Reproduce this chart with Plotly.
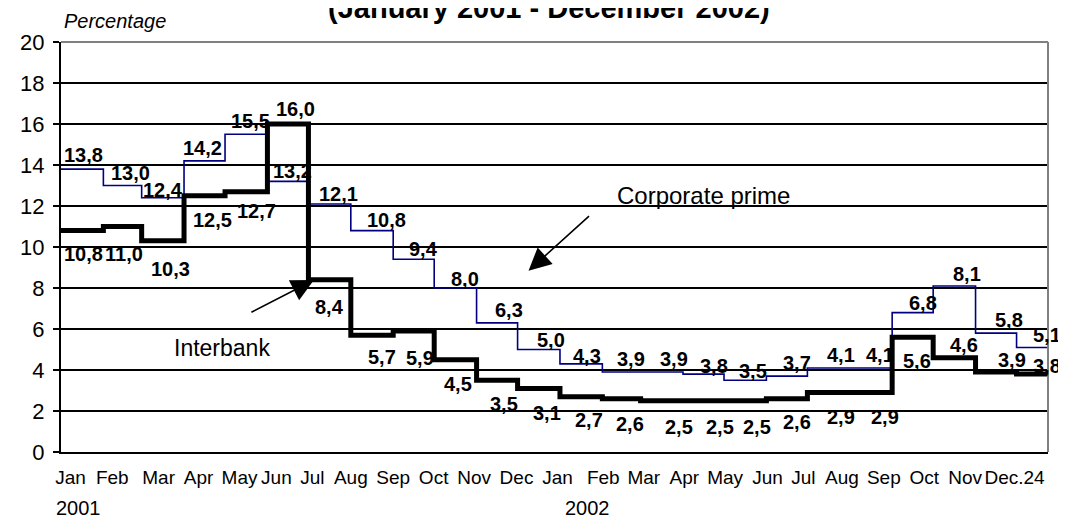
import pandas as pd
import plotly.graph_objects as go

# ---------------- data ----------------
month_starts = ["2001-01-01", "2001-02-01", "2001-03-01", "2001-04-01", "2001-05-01", "2001-06-01",
                "2001-07-01", "2001-08-01", "2001-09-01", "2001-10-01", "2001-11-01", "2001-12-01",
                "2002-01-01", "2002-02-01", "2002-03-01", "2002-04-01", "2002-05-01", "2002-06-01",
                "2002-07-01", "2002-08-01", "2002-09-01", "2002-10-01", "2002-11-01", "2002-12-01"]
period_end = "2002-12-24"

interbank = [10.8, 11.0, 10.3, 12.5, 12.7, 16.0, 8.4, 5.7, 5.9, 4.5, 3.5, 3.1,
             2.7, 2.6, 2.5, 2.5, 2.5, 2.6, 2.9, 2.9, 5.6, 4.6, 3.9, 3.8]
corporate_prime = [13.8, 13.0, 12.4, 14.2, 15.5, 13.2, 12.1, 10.8, 9.4, 8.0, 6.3, 5.0,
                   4.3, 3.9, 3.9, 3.8, 3.5, 3.7, 4.1, 4.1, 6.8, 8.1, 5.8, 5.1]

month_labels = ["Jan", "Feb", "Mar", "Apr", "May", "Jun", "Jul", "Aug", "Sep", "Oct", "Nov", "Dec",
                "Jan", "Feb", "Mar", "Apr", "May", "Jun", "Jul", "Aug", "Sep", "Oct", "Nov", "Dec.24"]
year_labels = ["2001", "2002"]
y_ticks = [0, 2, 4, 6, 8, 10, 12, 14, 16, 18, 20]

# ---------------- styling / placement ----------------
tick_dates = ["2001-01-08 00:00", "2001-02-07 12:00", "2001-03-13 10:00", "2001-04-11 14:00",
              "2001-05-11 14:00", "2001-06-07 14:00", "2001-07-03 22:00", "2001-08-01 00:00",
              "2001-09-01 00:00", "2001-09-30 14:00", "2001-10-30 05:00", "2001-11-30 05:00",
              "2001-12-30 05:00", "2002-02-01 17:00", "2002-03-03 07:00", "2002-04-01 22:00",
              "2002-05-01 19:00", "2002-06-01 19:00", "2002-06-28 02:00", "2002-07-26 07:00",
              "2002-08-25 22:00", "2002-09-24 12:00", "2002-10-24 10:00", "2002-11-29 12:00"]
year_dates = ["2001-01-14", "2002-01-21"]

cp_shift = [(1.5, 14), (7.5, 12.5), (0, 8), (-2, 13), (4, 13), (5, 10), (9, 10), (14, 10.5),
            (10, 10.5), (10, 9), (12, 12.5), (12.5, 10), (5.5, 8), (9.5, 13), (12, 13), (10, 8.5),
            (8, 9), (10, 13), (12.5, 13), (9, 13), (10, 10), (13, 12), (12.5, 13.5), (14.5, 12.5)]
ib_shift = [(1.5, -23), (1, -27), (8, -28), (8, -24), (10.5, -19), (8, 15), (0, -27), (9.5, -22),
            (6, -27), (2.5, -24), (6.5, -23.5), (8.5, -25), (8, -23.5), (8.5, -25), (17, -26),
            (16, -26), (12, -26), (10, -23), (12.5, -24), (14.5, -24), (4, -23.5), (10, 12.5),
            (16, 12), (14.5, 8.5)]

FONT = "Liberation Sans, Arial, sans-serif"

starts = pd.to_datetime(month_starts)
ends = list(starts[1:]) + [pd.Timestamp(period_end)]
mids = [s + (e - s) / 2 for s, e in zip(starts, ends)]
x_step = list(starts) + [pd.Timestamp(period_end)]
tick_x = [pd.Timestamp(t) for t in tick_dates]

fig = go.Figure()
fig.add_trace(go.Scatter(x=x_step, y=corporate_prime + [corporate_prime[-1]], mode="lines",
                         line=dict(color="#000080", width=1.6, shape="hv"),
                         name="Corporate prime", hoverinfo="skip"))
fig.add_trace(go.Scatter(x=x_step, y=interbank + [interbank[-1]], mode="lines",
                         line=dict(color="#000000", width=5, shape="hv"),
                         name="Interbank", hoverinfo="skip"))

def fmt(v):
    return f"{v:.1f}".replace(".", ",")

annotations = []
for m, v, (dx, dy) in zip(mids, corporate_prime, cp_shift):
    annotations.append(dict(x=m, y=v, xref="x", yref="y", text="<b>" + fmt(v) + "</b>",
                            showarrow=False, xshift=dx, yshift=dy,
                            font=dict(family=FONT, size=20, color="black")))
for m, v, (dx, dy) in zip(mids, interbank, ib_shift):
    annotations.append(dict(x=m, y=v, xref="x", yref="y", text="<b>" + fmt(v) + "</b>",
                            showarrow=False, xshift=dx, yshift=dy,
                            font=dict(family=FONT, size=20, color="black")))

# series name labels with arrows
annotations.append(dict(x="2001-04-29", y=5.07, xref="x", yref="y", text="Interbank",
                        showarrow=False, font=dict(family=FONT, size=23, color="black")))
annotations.append(dict(x="2002-04-16", y=12.5, xref="x", yref="y", text="Corporate prime",
                        showarrow=False, font=dict(family=FONT, size=24, color="black")))
annotations.append(dict(x="2001-07-05", y=8.39, xref="x", yref="y", text="", showarrow=True,
                        ax=-64, ay=33, arrowhead=2, arrowsize=2.8, arrowwidth=1.6,
                        arrowcolor="black", standoff=0))
annotations.append(dict(x="2001-12-09", y=8.84, xref="x", yref="y", text="", showarrow=True,
                        ax=62, ay=-56, arrowhead=2, arrowsize=2.8, arrowwidth=1.6,
                        arrowcolor="black", standoff=0))

# years
for d, t in zip(year_dates, year_labels):
    annotations.append(dict(x=d, y=-0.137, xref="x", yref="paper", text=t, showarrow=False,
                            yanchor="middle", font=dict(family=FONT, size=20, color="black")))

# axis title & chart title (title is partly cut at the top edge, as in the reference)
annotations.append(dict(x=0, y=1.051, xref="paper", yref="paper", text="<i>Percentage</i>",
                        showarrow=False, xanchor="left", yanchor="middle", xshift=1,
                        font=dict(family=FONT, size=20, color="black")))
annotations.append(dict(x=(542 - 47) / 1001, y=1.039, xref="paper", yref="paper",
                        text="<b>(January 2001 - December 2002)</b>", showarrow=False,
                        xanchor="center", yanchor="bottom",
                        font=dict(family=FONT, size=29, color="black")))

# page body has an 8px margin: figure is sized so the plot area lands at x 47..1048, y 42..452
fig.update_layout(
    width=1058, height=512,
    margin=dict(l=39, r=18, t=34, b=68),
    paper_bgcolor="white", plot_bgcolor="white",
    showlegend=False,
    font=dict(family=FONT, color="black"),
    annotations=annotations,
    shapes=[
        dict(type="line", xref="paper", yref="paper", x0=0, x1=1, y0=1, y1=1,
             line=dict(color="#808080", width=2), layer="above"),
        dict(type="line", xref="paper", yref="paper", x0=1, x1=1, y0=0, y1=1,
             line=dict(color="#808080", width=2), layer="above"),
    ],
)
fig.update_xaxes(type="date", range=[starts[0], pd.Timestamp(period_end)],
                 tickvals=tick_x, ticktext=month_labels,
                 showgrid=False, showline=True, linecolor="black", linewidth=2,
                 ticks="", ticklabelstandoff=7, tickangle=0,
                 tickfont=dict(family=FONT, size=19, color="black"), zeroline=False)
fig.update_yaxes(range=[0, 20], tickvals=y_ticks, showgrid=True, gridcolor="black",
                 gridwidth=1.6, showline=True, linecolor="black", linewidth=2,
                 ticks="outside", ticklen=6, tickcolor="black", tickwidth=1.5,
                 ticklabelstandoff=4,
                 tickfont=dict(family=FONT, size=22, color="black"), zeroline=False)

fig.write_html("out.html")
